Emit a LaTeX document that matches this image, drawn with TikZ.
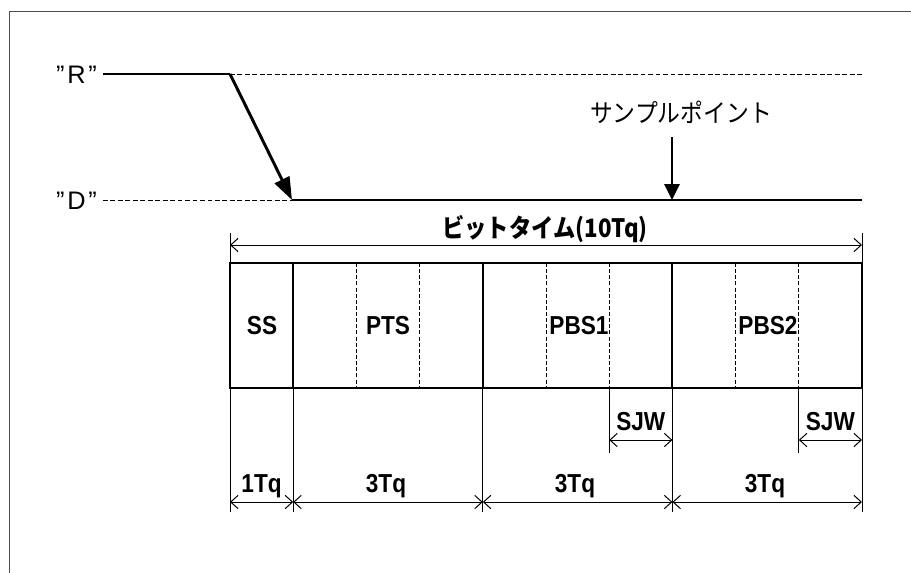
\documentclass[tikz,border=0pt]{standalone}
\usepackage{fontspec}
\setmainfont{Liberation Sans}
\newfontfamily\jp{Noto Sans CJK JP}
\usetikzlibrary{arrows.meta}
\newcommand{\cond}[1]{\scalebox{0.87}[1]{#1}}
\begin{document}
\begin{tikzpicture}[x=0.75pt,y=-0.75pt,
  sig/.style={line width=2.2pt},
  guide/.style={line width=0.75pt, dash pattern=on 3.6pt off 2pt},
  frameline/.style={line width=1.4pt, draw=black!70},
  boxline/.style={line width=1.5pt},
  sepdash/.style={line width=0.75pt, dash pattern=on 3pt off 1.6pt},
  thinline/.style={line width=0.75pt},
  dimarrow/.style={line width=0.75pt, {Straight Barb[length=5.5pt,width=10pt]}-{Straight Barb[length=5.5pt,width=10pt]}},
  bigtip/.style={sig, -{Triangle[length=17pt,width=12pt]}},
  lbl/.style={font=\fontsize{19.5}{22}\selectfont\bfseries, inner sep=0pt, anchor=base},
  siglbl/.style={font=\fontsize{19}{22}\selectfont, inner sep=0pt, anchor=base east}
]
\useasboundingbox (0,0) rectangle (911,572);
% frame (only top and left visible)
\draw[frameline] (9.5,573) -- (9.5,11.5) -- (912,11.5);

% key coordinates
\coordinate (Rs) at (103,74);
\coordinate (Rk) at (230,74);
\coordinate (Re) at (862,74);
\coordinate (Ds) at (103,200);
\coordinate (Dk) at (292,200);
\coordinate (De) at (862,200);
\coordinate (Sp) at (672,200);

% signal labels
\node[siglbl] (lR) at (97,83) {”\hspace{2pt}R\hspace{2pt}”};
\node[siglbl] (lD) at (97,209) {”\hspace{2pt}D\hspace{2pt}”};

% levels
\draw[sig] (Rs) -- (Rk);
\draw[guide] (Rk) -- (Re);
\draw[guide] (Ds) -- (Dk);
\draw[sig] (Dk) -- (De);
\draw[bigtip] (Rk) -- (Dk);

% sample point
\node[inner sep=0pt, font=\jp\fontsize{19}{22}\selectfont] (sp) at (681,112) {\scalebox{0.9}[1]{サンプルポイント}};
\coordinate (spTop) at (672,137);
\draw[line width=1.6pt, -{Triangle[length=12pt,width=11.5pt]}] (spTop) -- (Sp);

% bit time dimension
\node[inner sep=0pt, font=\jp\bfseries\fontsize{19}{22}\selectfont] (bt) at (545,229) {\scalebox{0.88}[1]{ビットタイム(10Tq)}};
\draw[thinline] (230,233) -- (230,263);
\draw[thinline] (862,233) -- (862,263);
\coordinate (btL) at (230,245);
\coordinate (btR) at (862,245);
\draw[dimarrow] (btL) -- (btR);

% box
\draw[sepdash] (356.4,263) -- (356.4,388);
\draw[sepdash] (419.6,263) -- (419.6,388);
\draw[sepdash] (546,263) -- (546,388);
\draw[sepdash] (609.2,263) -- (609.2,388);
\draw[sepdash] (735.6,263) -- (735.6,388);
\draw[sepdash] (798.8,263) -- (798.8,388);
\draw[boxline] (293.2,263) -- (293.2,388);
\draw[boxline] (482.8,263) -- (482.8,388);
\draw[boxline] (672.4,263) -- (672.4,388);
\draw[boxline] (230,263) rectangle (862,388);

\node[lbl] (ss) at (262,334) {\cond{SS}};
\node[lbl] (pts) at (388,334) {\cond{PTS}};
\node[lbl] (pbs1) at (579,334) {\cond{PBS1}};
\node[lbl] (pbs2) at (768,334) {\cond{PBS2}};

% extension lines below
\foreach \x in {230,293.2,482.8,672.4,862}
  \draw[thinline] (\x,388) -- (\x,512);
\foreach \x in {609.2,798.8}
  \draw[thinline] (\x,388) -- (\x,453);

% SJW
\coordinate (s1L) at (609.2,440);
\coordinate (s1R) at (672.4,440);
\coordinate (s2L) at (798.8,440);
\coordinate (s2R) at (862,440);
\draw[dimarrow] (s1L) -- (s1R);
\draw[dimarrow] (s2L) -- (s2R);
\node[lbl] (sjw1) at (640.8,430) {\cond{SJW}};
\node[lbl] (sjw2) at (830.4,430) {\cond{SJW}};

% Tq
\coordinate (t0) at (230,502);
\coordinate (t1) at (293.2,502);
\coordinate (t2) at (482.8,502);
\coordinate (t3) at (672.4,502);
\coordinate (t4) at (862,502);
\draw[dimarrow] (t0) -- (t1);
\draw[dimarrow] (t1) -- (t2);
\draw[dimarrow] (t2) -- (t3);
\draw[dimarrow] (t3) -- (t4);
\node[lbl] (q1) at (261.6,492) {\cond{1Tq}};
\node[lbl] (q2) at (386,492) {\cond{3Tq}};
\node[lbl] (q3) at (575,492) {\cond{3Tq}};
\node[lbl] (q4) at (765,492) {\cond{3Tq}};
\end{tikzpicture}
\end{document}
